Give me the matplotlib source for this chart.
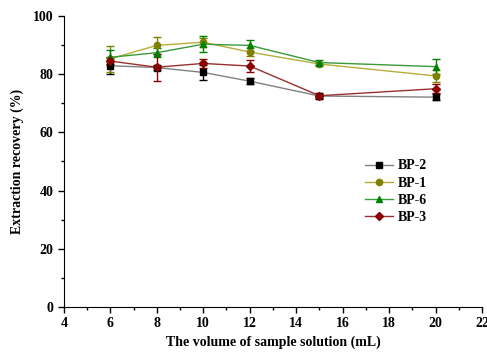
import matplotlib
matplotlib.use("Agg")
import matplotlib.pyplot as plt
from matplotlib.ticker import MultipleLocator
from matplotlib.lines import Line2D

plt.rcParams['font.family'] = ['Liberation Serif', 'DejaVu Serif']
plt.rcParams['font.weight'] = 'bold'

volume = [6, 8, 10, 12, 15, 20]
bp2 = [82.9, 82.3, 80.6, 77.6, 72.5, 72.1]
bp2_err = [3.0, 1.0, 2.5, 1.0, 0.8, 1.0]
bp1 = [85.3, 89.9, 91.0, 87.6, 83.5, 79.4]
bp1_err = [4.5, 3.0, 1.5, 1.5, 0.8, 2.0]
bp6 = [85.8, 87.4, 90.3, 89.9, 84.0, 82.6]
bp6_err = [2.5, 1.5, 2.8, 2.0, 1.0, 2.7]
bp3 = [84.5, 82.4, 83.7, 82.8, 72.6, 75.0]
bp3_err = [1.0, 4.7, 1.5, 2.0, 1.0, 1.5]

series = [
    ("BP-2", bp2, bp2_err, "s", "#000000", "#808080"),
    ("BP-1", bp1, bp1_err, "o", "#808000", "#b5ad3a"),
    ("BP-6", bp6, bp6_err, "^", "#008000", "#3a9a3a"),
    ("BP-3", bp3, bp3_err, "D", "#8b0000", "#9a3030"),
]

fig = plt.figure(figsize=(4.87, 3.56), dpi=100)
ax = fig.add_axes([0.131, 0.138, 0.859, 0.817])

handles = []
for name, vals, err, mk, mc, lc in series:
    ax.errorbar(volume, vals, yerr=err, color=lc, marker=mk, markersize=4.5,
                markerfacecolor=mc, markeredgecolor=mc, linewidth=1.0,
                elinewidth=1.0, capsize=3, ecolor=mc)
    handles.append(Line2D([], [], color=lc, marker=mk, markersize=4.5,
                          markerfacecolor=mc, markeredgecolor=mc, linewidth=1.0,
                          label=name))

ax.set_xlim(4, 22)
ax.set_ylim(0, 100)
ax.xaxis.set_major_locator(MultipleLocator(2))
ax.xaxis.set_minor_locator(MultipleLocator(1))
ax.yaxis.set_major_locator(MultipleLocator(20))
ax.yaxis.set_minor_locator(MultipleLocator(10))
ax.spines['top'].set_visible(False)
ax.spines['right'].set_visible(False)
ax.tick_params(direction='out', labelsize=10, length=4, width=1)
ax.tick_params(which='minor', direction='out', length=2, width=1)
for lab in ax.get_xticklabels() + ax.get_yticklabels():
    lab.set_fontweight('bold')

ax.set_xlabel("The volume of sample solution (mL)", fontsize=10, fontweight='bold', labelpad=4)
ax.set_ylabel("Extraction recovery (%)", fontsize=10, fontweight='bold', labelpad=6)

leg = ax.legend(handles=handles, loc='upper left', bbox_to_anchor=(0.69, 0.55), frameon=False,
                fontsize=10, handlelength=2.0, handletextpad=0.4, labelspacing=0.3)

fig.savefig("out.png", dpi=100)
